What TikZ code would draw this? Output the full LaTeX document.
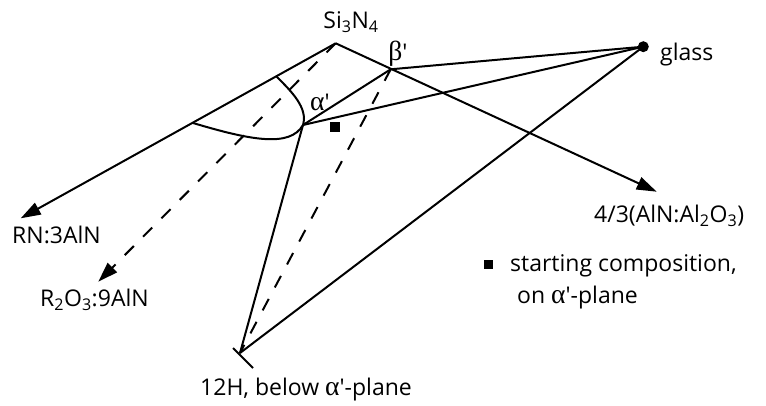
\documentclass[tikz,border=0pt]{standalone}
\usepackage{fontspec}
\setmainfont{Open Sans}
\newfontfamily\grk[Scale=1.2]{Liberation Serif}
\usetikzlibrary{arrows.meta}
\tikzset{
  edge/.style={line width=2pt},
  hidden/.style={edge, dash pattern=on 13pt off 13pt},
  head/.style={-{Triangle[length=20pt,width=13pt]}},
  lbl/.style={font=\fontsize{23}{27}\selectfont, inner sep=0pt},
}
\newcommand{\prm}{\textquotesingle}
\newcommand{\al}{{\grk α}\prm}
\newcommand{\be}{{\grk β}\prm}

\begin{document}
\begin{tikzpicture}[x=1pt,y=-1pt]
  \useasboundingbox (0,0) rectangle (766,406);
  % corners of the prism
  \coordinate (si) at (335.7,43.3);
  \coordinate (beta) at (390.7,69.3);
  \coordinate (alpha) at (303,125);
  \coordinate (h12) at (240,353);
  \coordinate (rn) at (20.7,218.3);
  \coordinate (ro) at (98.3,281.7);
  \coordinate (aln) at (656.7,191.7);
  \coordinate (a1) at (276.7,76.7);
  \coordinate (a2) at (193,123);
  \node[circle, fill, inner sep=0pt, minimum size=11pt] (glass) at (643.3,46.7) {};
  \node[fill, inner sep=0pt, minimum size=10pt] (start) at (335,127) {};

  % axes out of Si3N4
  \draw[edge, head] (si) -- (rn);
  \draw[edge, head] (si) -- (aln);
  \draw[hidden, head] (si) -- (ro);

  % alpha' field
  \draw[edge] (a1) .. controls (292,92) and (308,108) .. (alpha);
  \draw[edge] (a2) .. controls (250,140) and (290,148) .. (alpha);
  \draw[edge] (beta) -- (alpha);

  % tie lines to glass and 12H
  \draw[edge] (glass.center) -- (beta);
  \draw[edge] (glass.center) -- (alpha);
  \draw[edge] (glass.center) -- (h12);
  \draw[edge] (alpha) -- (h12);
  \draw[hidden] (beta) -- (h12);
  \draw[edge] (h12) ++(-7,-5) -- ++(20,20);

  % labels
  \node[lbl] (lsi) at (351,22) {Si\textsubscript{3}N\textsubscript{4}};
  \node[lbl] (lbeta) at (398,54) {\be};
  \node[lbl] (lalpha) at (320,102) {\al};
  \node[lbl, anchor=west] (lglass) at (660,55) {glass};
  \node[lbl, anchor=west] (laln) at (594,216) {4/3(AlN:Al\textsubscript{2}O\textsubscript{3})};
  \node[lbl, anchor=west] (lrn) at (12,235) {RN:3AlN};
  \node[lbl, anchor=west] (lro) at (40,300) {R\textsubscript{2}O\textsubscript{3}:9AlN};
  \node[lbl, anchor=west] (lh12) at (200,390) {12H, below \al-plane};
  \node[fill, inner sep=0pt, minimum size=9pt] (key) at (488,265) {};
  \node[lbl, anchor=west] (lkey1) at (510,266) {starting composition,};
  \node[lbl, anchor=west] (lkey2) at (517,298) {on \al-plane};
\end{tikzpicture}
\end{document}
